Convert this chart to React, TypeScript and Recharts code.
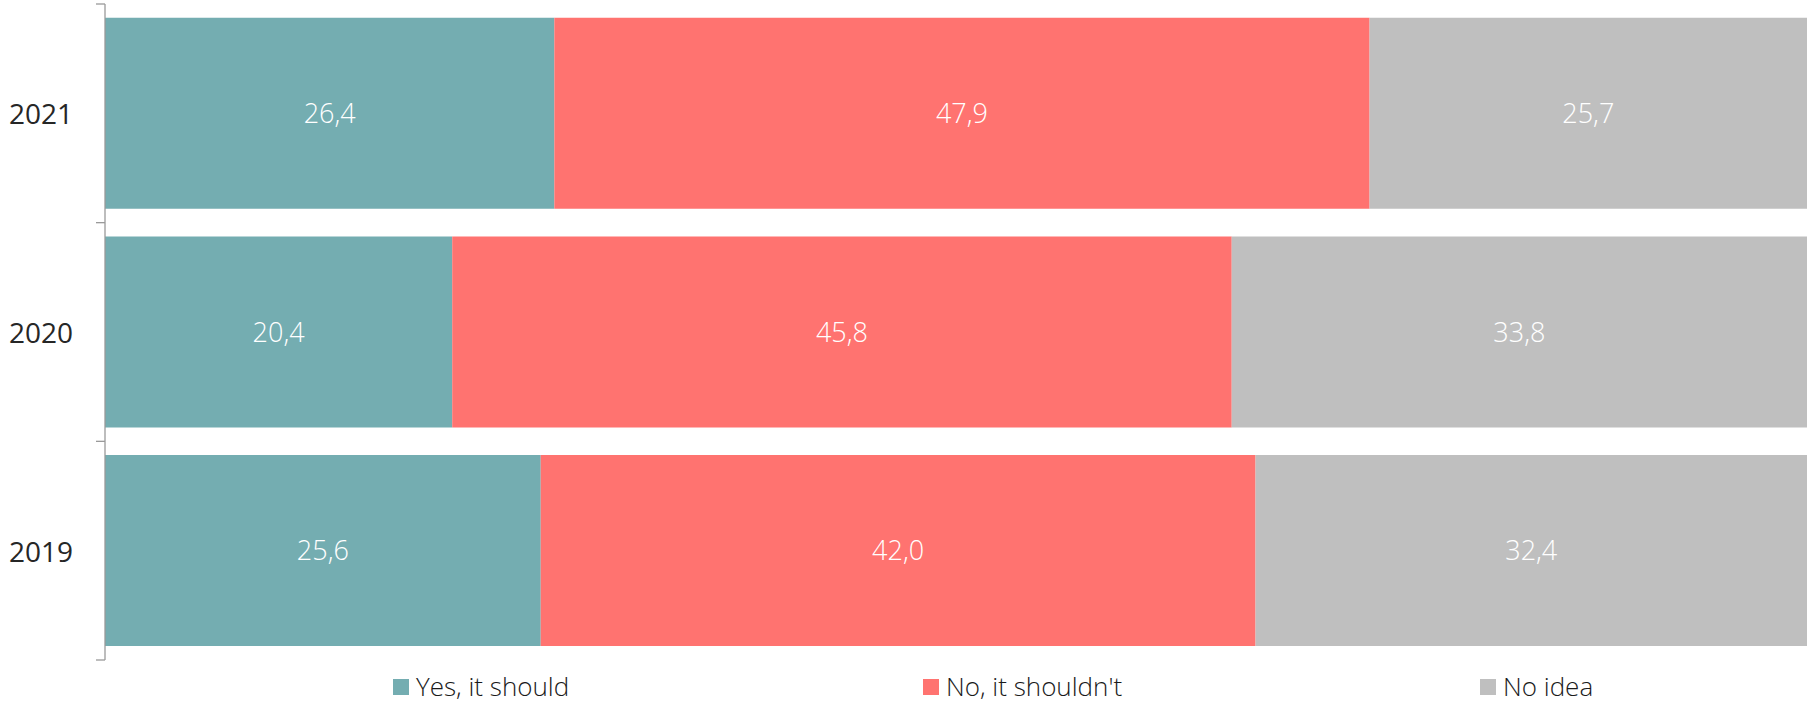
import React from 'react';
import { BarChart, Bar, XAxis, YAxis, LabelList, Legend } from 'recharts';

const years = ['2021', '2020', '2019'];
const yesValues = [26.4, 20.4, 25.6];
const noValues = [47.9, 45.8, 42.0];
const noIdeaValues = [25.7, 33.8, 32.4];
const seriesNames = ['Yes, it should', "No, it shouldn't", 'No idea'];
const seriesColors = ['#74ADB1', '#FF7370', '#BFBFBF'];

const data = years.map((y, i) => ({
  year: y,
  yes: yesValues[i],
  no: noValues[i],
  noIdea: noIdeaValues[i],
}));

const W = 1807;
const H = 703;
const MARGIN = { top: 4, right: 0, bottom: 3, left: 0 };
const LEGEND_H = 40;
const AXIS_W = 105;
const BAND = (H - MARGIN.top - MARGIN.bottom - LEGEND_H) / years.length;
const FONT = '"Open Sans", sans-serif';

const fmt = (v: any) => Number(v).toFixed(1).replace('.', ',');

const CategoryTick = (props: any) => {
  const { y, payload, index } = props;
  const ax = AXIS_W;
  return (
    <g>
      <text
        x={ax - 32}
        y={y}
        textAnchor="end"
        dominantBaseline="central"
        fontFamily={FONT}
        fontSize={28}
        fill="#262626"
      >
        {payload.value}
      </text>
      <line x1={ax - 9} x2={ax} y1={y - BAND / 2} y2={y - BAND / 2} stroke="#9a9a9a" strokeWidth={1.3} />
      {index === years.length - 1 && (
        <line x1={ax - 9} x2={ax} y1={y + BAND / 2} y2={y + BAND / 2} stroke="#9a9a9a" strokeWidth={1.3} />
      )}
    </g>
  );
};

const legendLefts = [393, 923, 1480];

const renderLegend = () => (
  <div style={{ position: 'relative', width: W, height: LEGEND_H }}>
    {seriesNames.map((name, i) => (
      <div
        key={name}
        style={{
          position: 'absolute',
          left: legendLefts[i],
          top: 18,
          height: 17,
          display: 'flex',
          alignItems: 'center',
          whiteSpace: 'nowrap',
        }}
      >
        <span style={{ display: 'inline-block', width: 16, height: 16, background: seriesColors[i], marginRight: 7 }} />
        <span style={{ fontFamily: FONT, fontSize: 26, fontWeight: 300, color: '#1a1a1a', lineHeight: '17px' }}>{name}</span>
      </div>
    ))}
  </div>
);

export default function App() {
  return (
    <div style={{ width: W, height: H }}>
      <style>{'body{margin:0}'}</style>
      <BarChart
        width={W}
        height={H}
        data={data}
        layout="vertical"
        margin={MARGIN}
        barCategoryGap="6.3%"
      >
        <XAxis type="number" domain={[0, 100]} hide />
        <YAxis
          type="category"
          dataKey="year"
          width={AXIS_W}
          axisLine={{ stroke: '#9a9a9a', strokeWidth: 1.3 }}
          tickLine={false}
          tick={<CategoryTick />}
          interval={0}
        />
        <Legend verticalAlign="bottom" height={LEGEND_H} content={renderLegend} />
        <Bar dataKey="yes" name={seriesNames[0]} stackId="a" fill={seriesColors[0]} isAnimationActive={false}>
          <LabelList dataKey="yes" position="center" formatter={fmt} fill="#ffffff" fontSize={27} fontWeight={300} fontFamily={FONT} />
        </Bar>
        <Bar dataKey="no" name={seriesNames[1]} stackId="a" fill={seriesColors[1]} isAnimationActive={false}>
          <LabelList dataKey="no" position="center" formatter={fmt} fill="#ffffff" fontSize={27} fontWeight={300} fontFamily={FONT} />
        </Bar>
        <Bar dataKey="noIdea" name={seriesNames[2]} stackId="a" fill={seriesColors[2]} isAnimationActive={false}>
          <LabelList dataKey="noIdea" position="center" formatter={fmt} fill="#ffffff" fontSize={27} fontWeight={300} fontFamily={FONT} />
        </Bar>
      </BarChart>
    </div>
  );
}
